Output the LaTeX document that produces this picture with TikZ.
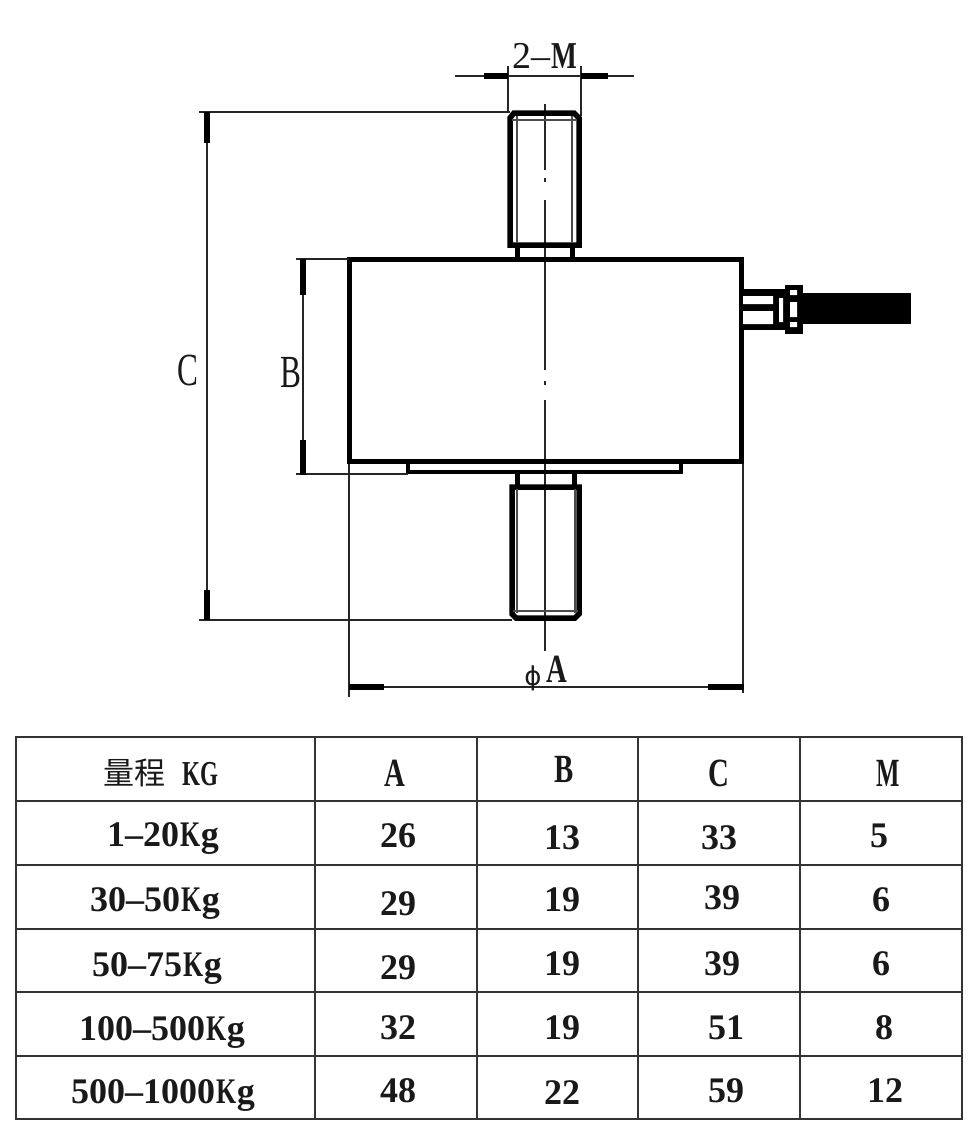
\documentclass[tikz,border=0pt]{standalone}
\usepackage{graphicx}
\usepackage{fontspec}
\setmainfont{Liberation Serif}
\newfontfamily\cjkfont{Noto Sans CJK SC}
\newcommand\nx[2][.72]{\scalebox{#1}[1]{#2}}
\newcommand\kgunit{\kern1pt\nx{K}\kern.5pt g}
\tikzset{
  x=1pt,y=-1pt,
  thin line/.style={line width=2pt,black!85},
  dim tick/.style={line width=5.5pt},
  outline/.style={line width=5.5pt,line join=miter},
  inner thread/.style={line width=2.5pt,black!70},
  grid line/.style={line width=2.5pt,black!80},
  label/.style={font=\rmfamily\bfseries\fontsize{36}{36}\selectfont,anchor=base,yshift=-12pt,inner sep=0pt,black!90},
  biglabel/.style={font=\rmfamily\bfseries\fontsize{40}{40}\selectfont,anchor=base,yshift=-13pt,inner sep=0pt,black!90},
  dimlabel/.style={font=\rmfamily\fontsize{38}{38}\selectfont,anchor=base,yshift=-13pt,inner sep=0pt,black!90},
  hugelabel/.style={font=\rmfamily\fontsize{46}{46}\selectfont,anchor=base,yshift=-15pt,inner sep=0pt,black!90},
}
\begin{document}
\begin{tikzpicture}
\useasboundingbox[fill=white] (0,0) rectangle (967,1133);
% centre line
\draw[thin line] (545,104) -- (545,170) (545,178) -- (545,182) (545,200) -- (545,370) (545,381) -- (545,385) (545,400) -- (545,651);
% body
\draw[line width=5pt] (349,259) rectangle (741,461);
% top stud
\draw[outline] (510,245) -- (510,118) -- (514,113) -- (574,113) -- (579,118) -- (579,245) -- cycle;
\draw[inner thread] (517,116) -- (517,243) (572,116) -- (572,243) (512,120) -- (577,120);
\draw[line width=5pt] (517,247) -- (517,259) (572,247) -- (572,259);
% flange
\draw[line width=4.5pt] (408,461) -- (408,472) -- (681,472) -- (681,461);
% bottom stud
\draw[line width=5pt] (517,473) -- (517,486) (574,473) -- (574,486);
\draw[outline] (512,487) -- (579,487) -- (579,614) -- (575,618) -- (516,618) -- (512,614) -- cycle;
\draw[inner thread] (517,489) -- (517,613) (575,489) -- (575,613) (513,611) -- (578,611);
% cable connector
\fill (741,289) rectangle (785,330);
\fill[white] (743,296) rectangle (773,304) (743,311) rectangle (773,324) (779,298) rectangle (783,322);
\fill (785,285) rectangle (803,334);
\fill[white] (790,290) rectangle (797,295) (790,302) rectangle (797,317) (790,322) rectangle (797,327);
\fill (803,293) rectangle (911,324);
% dimension C
\draw[thin line] (207,112) -- (207,620) (199,112) -- (510,112) (199,620) -- (512,620);
\draw[dim tick] (207,112) -- (207,143) (207,590) -- (207,620);
% dimension B
\draw[thin line] (303,259) -- (303,475) (296,259) -- (349,259) (296,474) -- (408,474);
\draw[dim tick] (303,259) -- (303,295) (303,440) -- (303,475);
% dimension phi A
\draw[thin line] (349,464) -- (349,697) (743,464) -- (743,693) (349,687) -- (744,687);
\draw[dim tick] (349,687) -- (384,687) (708,687) -- (744,687);
% dimension 2-M
\draw[thin line] (455,76) -- (634,76) (508,66) -- (508,113) (581,66) -- (581,116);
\draw[dim tick] (484,76) -- (508,76) (581,76) -- (608,76);
% dimension labels
\node[dimlabel] (lblM) at (545,55) {2–\textbf{\nx{M}}};
\node[hugelabel] (lblC) at (188,370) {\nx[.68]{C}};
\node[hugelabel] (lblB) at (291,372) {\nx[.68]{B}};
\node[dimlabel,font=\fontspec{DejaVu Sans}\fontsize{26}{26}\selectfont] (lblPhi) at (533,672) {ϕ};
\node[biglabel] (lblA) at (557,669) {\nx{A}};
% table grid
\draw[grid line] (16,737) rectangle (962,1119);
\foreach \yy in {801,865,929,992,1056} \draw[grid line] (16,\yy) -- (962,\yy);
\foreach \xx in {315,477,638,800} \draw[grid line] (\xx,737) -- (\xx,1119);
% table text
\node[label] (h1a) at (134,772) {{\cjkfont\mdseries\fontsize{31}{31}\selectfont 量程}};
\node[label,font=\rmfamily\bfseries\fontsize{35}{35}\selectfont] (h1b) at (200,773) {\nx[.66]{KG}};
\node[biglabel] (hA) at (395,773) {\nx{A}};
\node[biglabel] (hB) at (564,769) {\nx{B}};
\node[biglabel] (hC) at (719,773) {\nx{C}};
\node[biglabel] (hM) at (888,773) {\nx[.62]{M}};
\node[label] (r1a) at (163,834) {1–20\kgunit};
\node[label] (r1b) at (398,835) {26};
\node[label] (r1c) at (562,837) {13};
\node[label] (r1d) at (719,837) {33};
\node[label] (r1e) at (879,835) {5};
\node[label] (r2a) at (155,899) {30–50\kgunit};
\node[label] (r2b) at (398,903) {29};
\node[label] (r2c) at (562,899) {19};
\node[label] (r2d) at (722,897) {39};
\node[label] (r2e) at (881,899) {6};
\node[label] (r3a) at (157,964) {50–75\kgunit};
\node[label] (r3b) at (398,967) {29};
\node[label] (r3c) at (562,963) {19};
\node[label] (r3d) at (722,963) {39};
\node[label] (r3e) at (881,963) {6};
\node[label] (r4a) at (162,1028) {100–500\kgunit};
\node[label] (r4b) at (398,1027) {32};
\node[label] (r4c) at (562,1027) {19};
\node[label] (r4d) at (726,1027) {51};
\node[label] (r4e) at (884,1027) {8};
\node[label] (r5a) at (163,1091) {500–1000\kgunit};
\node[label] (r5b) at (398,1090) {48};
\node[label] (r5c) at (562,1092) {22};
\node[label] (r5d) at (726,1090) {59};
\node[label] (r5e) at (885,1090) {12};
\end{tikzpicture}
\end{document}
